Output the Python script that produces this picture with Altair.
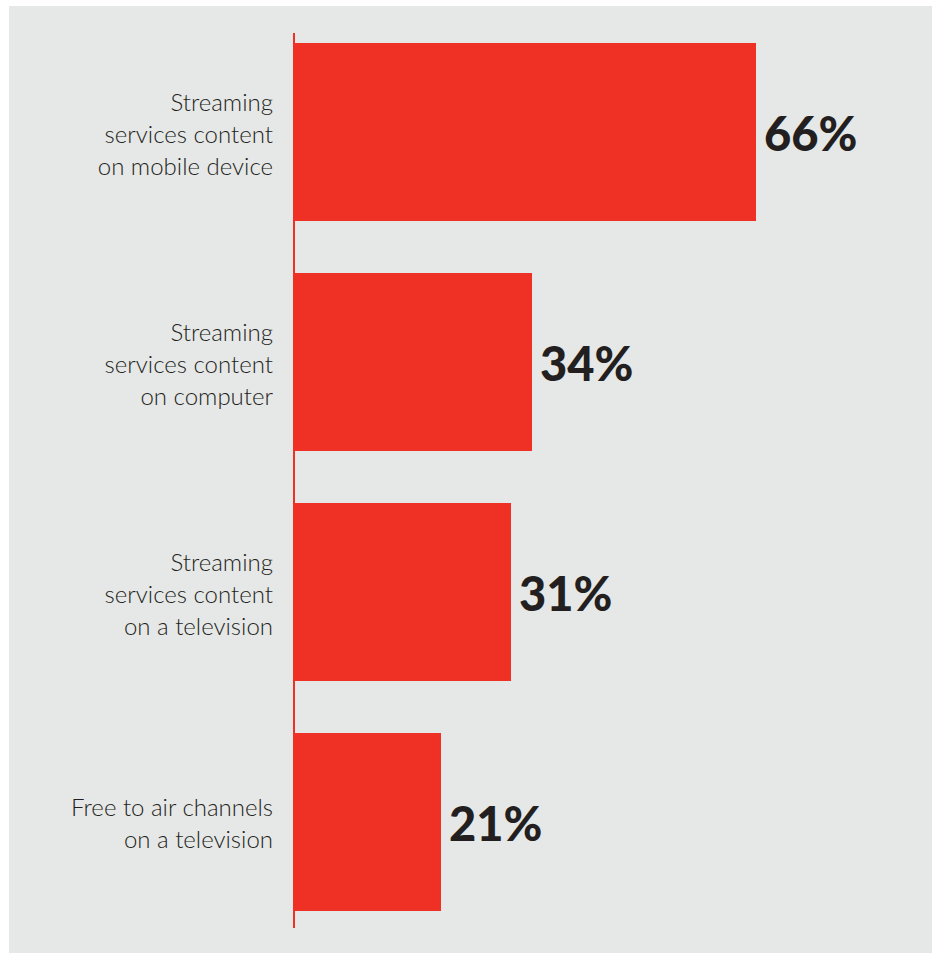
import altair as alt
import pandas as pd

categories = [
    "Streaming\nservices content\non mobile device",
    "Streaming\nservices content\non computer",
    "Streaming\nservices content\non a television",
    "Free to air channels\non a television",
]
values = [66, 34, 31, 21]
value_labels = ["66%", "34%", "31%", "21%"]

df = pd.DataFrame({"cat": categories, "value": values, "label": value_labels,
                   "zero": [0] * len(values),
                   "nlines": [c.count("\n") + 1 for c in categories]})
axis_df = pd.DataFrame({"zero": [0]})

RED = "#EE3124"
BG = "#E6E7E7"
TXT = "#231F20"

x_scale = alt.Scale(domain=[-40.714, 91.143], nice=False, zero=False)
y_scale = alt.Scale(domain=categories, paddingInner=0.226, paddingOuter=0.1715, align=0.468)

base = alt.Chart(df)

bars = base.mark_bar(color=RED).encode(
    x=alt.X("zero:Q", scale=x_scale, axis=None),
    x2="value:Q",
    y=alt.Y("cat:N", scale=y_scale, axis=None),
)

axis_rule = alt.Chart(axis_df).mark_rule(color=RED, strokeWidth=2).encode(
    x=alt.X("zero:Q", scale=x_scale, axis=None),
    y=alt.value(27),
    y2=alt.value(922),
)

def cat_layer(n, dy):
    return base.transform_filter(alt.datum.nlines == n).mark_text(
        align="right", baseline="middle", dx=-21, dy=dy, fontSize=24, lineHeight=32,
        font="Lato", fontWeight=300, color=TXT, lineBreak="\n",
    ).encode(
        x=alt.X("zero:Q", scale=x_scale, axis=None),
        y=alt.Y("cat:N", scale=y_scale, axis=None),
        text="cat:N",
    )

cat_text3 = cat_layer(3, -28)
cat_text2 = cat_layer(2, -13)

val_text = base.mark_text(
    align="left", baseline="middle", dx=8, dy=5, fontSize=47,
    font="Lato", fontWeight=900, color=TXT,
).encode(
    x=alt.X("value:Q", scale=x_scale, axis=None),
    y=alt.Y("cat:N", scale=y_scale, axis=None),
    text="label:N",
)

chart = (
    alt.layer(bars, axis_rule, cat_text3, cat_text2, val_text)
    .properties(
        width=923, height=947,
        autosize=alt.AutoSizeParams(type="none"),
        padding={"left": 9, "top": 6, "right": 4, "bottom": 2},
        background="white",
    )
    .configure_view(fill=BG, stroke=None)
)

chart.save("out.html", embed_options={"renderer": "svg", "actions": False})
